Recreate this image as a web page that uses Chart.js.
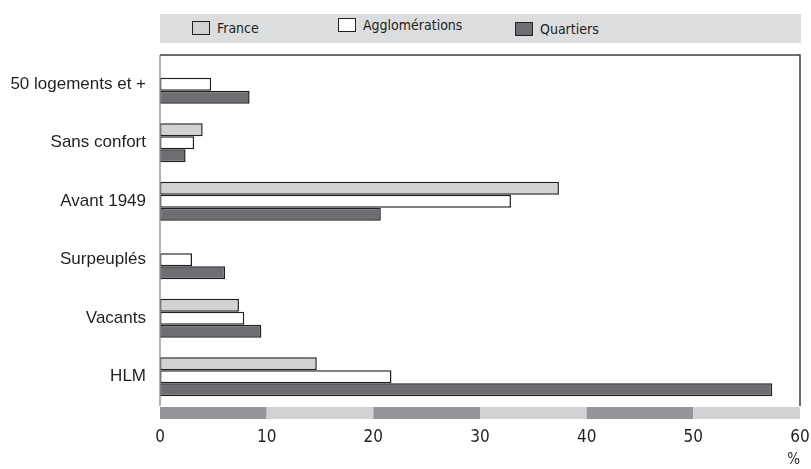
<!DOCTYPE html>
<html>
<head>
<meta charset="utf-8">
<script src="https://cdn.jsdelivr.net/npm/chart.js@4.4.1/dist/chart.umd.min.js"></script>
<style>
  html, body { margin: 0; padding: 0; background: #fff; }
  #wrap { position: relative; width: 811px; height: 469px; }
  #legend { position: absolute; left: 160px; top: 14px; width: 641px; height: 29px; background: #dcdddf;
            font-family: "Liberation Sans Narrow", "DejaVu Sans Condensed", "Liberation Sans", sans-serif;
            font-size: 14px; color: #231f20; }
  .item { position: absolute; display: flex; align-items: center; white-space: nowrap; }
  .box { width: 16px; height: 12px; border: 1px solid #231f20; margin-right: 7px; }
</style>
</head>
<body>
<div id="wrap">
  <canvas id="c" width="811" height="469"></canvas>
  <div id="legend"></div>
</div>
<script>
const categories = ["50 logements et +", "Sans confort", "Avant 1949", "Surpeuplés", "Vacants", "HLM"];
const seriesNames = ["France", "Agglomérations", "Quartiers"];
const franceValues = [null, 4.0, 37.4, null, 7.4, 14.7];
const agglomerationsValues = [4.8, 3.2, 32.9, 3.0, 7.9, 21.7];
const quartiersValues = [8.4, 2.4, 20.7, 6.1, 9.5, 57.4];
const xTicks = [0, 10, 20, 30, 40, 50, 60];
const fillColors = ["#d1d2d4", "#ffffff", "#6d6e71"];
const bandColors = ["#939598", "#d1d2d4"];

// HTML legend
const legendPos = [{x: 32, y: 6}, {x: 178, y: 3}, {x: 355, y: 7}];
const legendEl = document.getElementById('legend');
seriesNames.forEach((name, i) => {
  const it = document.createElement('div');
  it.className = 'item';
  it.style.left = legendPos[i].x + 'px';
  it.style.top = legendPos[i].y + 'px';
  const b = document.createElement('span');
  b.className = 'box';
  b.style.background = fillColors[i];
  const t = document.createElement('span');
  t.textContent = name;
  it.appendChild(b); it.appendChild(t);
  legendEl.appendChild(it);
});

const framePlugin = {
  id: 'frame',
  afterDraw(chart) {
    const {ctx, chartArea: a, scales: {x}} = chart;
    ctx.save();
    // alternating band below the plot
    for (let i = 0; i < xTicks.length - 1; i++) {
      const x0 = x.getPixelForValue(xTicks[i]);
      const x1 = x.getPixelForValue(xTicks[i + 1]);
      ctx.fillStyle = bandColors[i % 2];
      ctx.fillRect(x0, a.bottom + 1, x1 - x0, 12);
    }
    // frame
    ctx.lineWidth = 1.5;
    ctx.strokeStyle = '#9a9a9a';
    ctx.beginPath(); ctx.moveTo(a.left, a.top); ctx.lineTo(a.left, a.bottom); ctx.stroke();
    ctx.strokeStyle = '#3f3f3f';
    ctx.beginPath(); ctx.moveTo(a.left, a.top); ctx.lineTo(a.right, a.top); ctx.lineTo(a.right, a.bottom); ctx.stroke();
    ctx.restore();
  }
};

const dsList = [franceValues, agglomerationsValues, quartiersValues].map((vals, i) => ({
  label: seriesNames[i],
  data: vals,
  backgroundColor: fillColors[i],
  borderColor: '#231f20',
  borderWidth: 1.5,
  borderSkipped: false,
  categoryPercentage: 0.67,
  barPercentage: 1.0
}));

new Chart(document.getElementById('c'), {
  type: 'bar',
  data: { labels: categories, datasets: dsList },
  plugins: [framePlugin],
  options: {
    indexAxis: 'y',
    responsive: false,
    animation: false,
    layout: { padding: { top: 55, right: 11, left: 0, bottom: 0 } },
    plugins: { legend: { display: false }, tooltip: { enabled: false } },
    scales: {
      y: {
        grid: { display: false, drawTicks: false },
        border: { display: false },
        ticks: { color: '#231f20', padding: 14, font: { family: '"Liberation Sans", Arial, sans-serif', size: 17 } },
        afterFit(s) { s.width = 160; s.paddingTop = 0; s.paddingBottom = 0; }
      },
      x: {
        min: 0, max: 60,
        afterBuildTicks(s) { s.ticks = xTicks.map(v => ({ value: v })); },
        grid: { display: false, drawTicks: false },
        border: { display: false },
        ticks: { color: '#231f20', padding: 21, font: { family: '"Liberation Sans Narrow", "DejaVu Sans Condensed", sans-serif', size: 17 } },
        title: { display: true, text: '%', align: 'end', color: '#231f20', padding: 0,
                 font: { family: '"Liberation Sans Narrow", "DejaVu Sans Condensed", sans-serif', size: 15 } },
        afterFit(s) { s.height = 63; s.paddingLeft = 0; s.paddingRight = 0; }
      }
    }
  }
});
</script>
</body>
</html>
